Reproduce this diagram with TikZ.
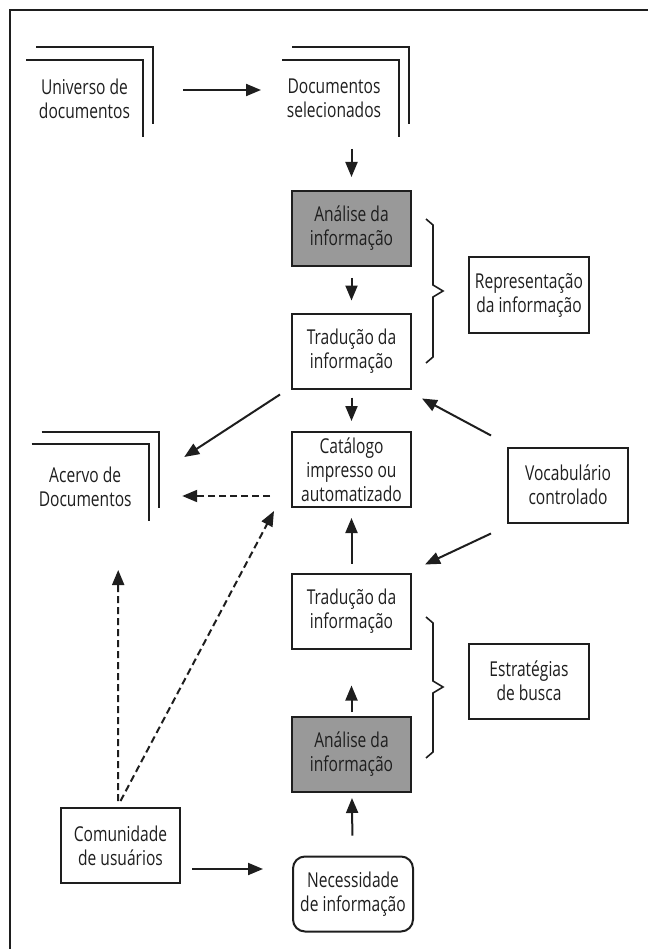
\documentclass[tikz,border=0pt]{standalone}
\usepackage{fontspec}
\setmainfont{Open Sans}[FakeStretch=0.76]
\usetikzlibrary{arrows.meta,calc}
\definecolor{boxgray}{RGB}{153,153,153}
\definecolor{ink}{RGB}{30,30,30}
\newcommand\docshape[3]{%
  \begin{scope}[shift={($(#1.center)+(#2,#3)$)}]
    \draw[doclines] (-58.5,-38.5) -- (58.5,-38.5) -- (58.5,38.5);
    \draw[doclines] (-48.5,-51) -- (68.5,-51) -- (68.5,25.5);
  \end{scope}}
\begin{document}
\begin{tikzpicture}[x=1pt,y=-1pt,
  every node/.style={font=\fontsize{20.5}{24}\selectfont, align=center, inner sep=0pt, text=ink},
  box/.style={draw=ink, line width=2pt, minimum width=119pt, minimum height=75pt},
  graybox/.style={box, fill=boxgray},
  roundbox/.style={box, rounded corners=12pt},
  doclines/.style={draw=ink, line width=2pt},
  bracestyle/.style={draw=ink, line width=1.6pt},
  arr/.style={draw=ink, line width=2pt, -{Triangle[length=15pt,width=12pt]}},
  darr/.style={arr, dash pattern=on 7pt off 4pt}
]
\useasboundingbox (0,0) rectangle (648,949);
\draw[draw=ink, line width=2pt] (10,949) -- (10,10) -- (648,10);

% document-stack nodes
\node (univ) at (84.5,98.5) {Universo de\\documentos};
\node (docsel) at (334,98.5) {Documentos\\selecionados};
\node (acervo) at (85.2,486.5) {Acervo de\\Documentos};
\docshape{univ}{0}{0}
\docshape{docsel}{6.5}{0}
\docshape{acervo}{4.8}{-4}

% boxes
\node[graybox] (an1) at (351.5,228.5) {Análise da\\informação};
\node[box] (tr1) at (351.5,351) {Tradução da\\informação};
\node[box] (cat) at (351.5,469.5) {Catálogo\\impresso ou\\automatizado};
\node[box] (tr2) at (351.5,611) {Tradução da\\informação};
\node[graybox] (an2) at (351.5,754.5) {Análise da\\informação};
\node[roundbox, minimum width=120pt] (nec) at (353,894) {Necessidade\\de informação};
\node[box, minimum width=120pt] (rep) at (529,295) {Representação\\da informação};
\node[box, minimum width=120pt] (voc) at (568,485) {Vocabulário\\controlado};
\node[box, minimum width=120pt] (est) at (529,681) {Estratégias\\de busca};
\node[box] (com) at (120.5,845.5) {Comunidade\\de usuários};

% braces
\draw[bracestyle] (426,219) -- (433,225) -- (433,285) -- (443,291) -- (433,297) -- (433,357) -- (426,363);
\draw[bracestyle] (426,617) -- (433,623) -- (433,681) -- (443,687) -- (433,693) -- (433,752) -- (426,758);

% connectors
\draw[arr] ($(univ.center)+(98.5,-8.5)$) -- ($(docsel.center)+(-73,-8.5)$);
\draw[arr] ($(an1.north)+(0,-41)$) -- ($(an1.north)+(0,-13)$);
\draw[arr, shorten <=11pt, shorten >=12pt] (an1) -- (tr1);
\draw[arr, shorten <=8pt, shorten >=10pt] (tr1) -- (cat);
\draw[arr] ($(tr1.south west)+(-11,5)$) -- ($(acervo.center)+(99,-29.5)$);
\draw[arr] ($(voc.north west)+(-16,-11)$) -- ($(tr1.south east)+(10,9)$);
\draw[darr] ($(cat.west)+(-21,26.5)$) -- ($(acervo.center)+(97,9.5)$);
\draw[arr, shorten <=9pt, shorten >=10pt] (tr2) -- (cat);
\draw[arr] ($(voc.south west)+(-16,10)$) -- ($(tr2.north east)+(13,-8)$);
\draw[arr, shorten <=4pt, shorten >=36pt] (an2) -- (tr2);
\draw[arr, shorten <=20pt, shorten >=5pt] (nec) -- (an2);
\draw[arr] ($(com.east)+(11,23.5)$) -- ($(nec.west)+(-29,-25)$);
\draw[darr] ($(com.north)+(-2.5,-6)$) -- ($(acervo.center)+(33,83.5)$);
\draw[darr] ($(com.north)+(0,-6)$) -- ($(cat.south west)+(-17,3)$);
\end{tikzpicture}
\end{document}
